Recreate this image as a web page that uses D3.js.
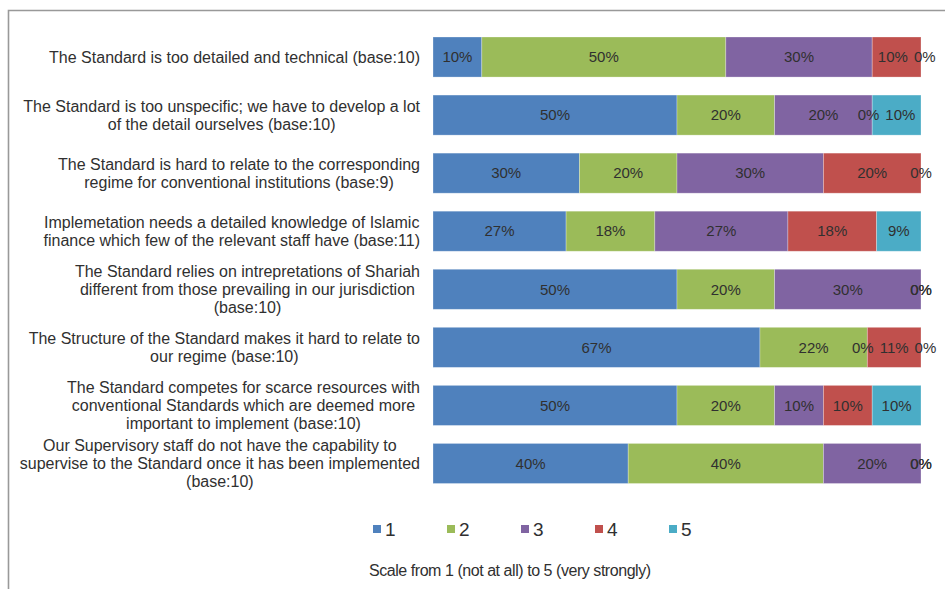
<!DOCTYPE html>
<html>
<head>
<meta charset="utf-8">
<script src="https://cdn.jsdelivr.net/npm/d3@7"></script>
<style>
	body { margin: 0; background: #fff; }
	svg { display: block; font-family: 'Liberation Sans', Arial, sans-serif; }
</style>
</head>
<body>
<div id="chart"></div>
<script>
// Categories (top to bottom), line breaks as in the original labels
const categories = [
	'The Standard is too detailed and technical (base:10)',
	'The Standard is too unspecific; we have to develop a lot\nof the detail ourselves (base:10)',
	'The Standard is hard to relate to the corresponding\nregime for conventional institutions (base:9)',
	'Implemetation needs a detailed knowledge of Islamic\nfinance which few of the relevant staff have (base:11)',
	'The Standard relies on intrepretations of Shariah\ndifferent from those prevailing in our jurisdiction\n(base:10)',
	'The Structure of the Standard makes it hard to relate to\nour regime (base:10)',
	'The Standard competes for scarce resources with\nconventional Standards which are deemed more\nimportant to implement (base:10)',
	'Our Supervisory staff do not have the capability to\nsupervise to the Standard once it has been implemented\n(base:10)'
];
const seriesNames = ['1', '2', '3', '4', '5'];
const scale1 = [10, 50, 30, 27, 50, 67, 50, 40];
const scale2 = [50, 20, 20, 18, 20, 22, 20, 40];
const scale3 = [30, 20, 30, 27, 30, 0, 10, 20];
const scale4 = [10, 0, 20, 18, 0, 11, 10, 0];
const scale5 = [0, 10, 0, 9, 0, 0, 10, 0];
const colors = ['#4F81BD', '#9BBB59', '#8064A2', '#C0504D', '#4BACC6'];
const captionText = 'Scale from 1 (not at all) to 5 (very strongly)';

const W = 945, H = 589;
const barLeft = 433, barRight = 921;
const labelRight = 420;
const lineH = 18;
const textColor = '#303030';

const rows = categories.map((c, i) => ({
	cat: c,
	'1': scale1[i],
	'2': scale2[i],
	'3': scale3[i],
	'4': scale4[i],
	'5': scale5[i]
}));

const svg = d3
	.select('#chart')
	.append('svg')
	.attr('width', W)
	.attr('height', H);

svg.append('rect').attr('width', W).attr('height', H).attr('fill', '#fff');

// frame (top and left edges only)
svg
	.append('path')
	.attr('d', 'M' + W + ',10.5H8.5V' + H)
	.attr('fill', 'none')
	.attr('stroke', '#999')
	.attr('stroke-width', 1.6);

// Scales
const x = d3.scaleLinear().domain([0, 1]).range([barLeft, barRight]);
const y = d3
	.scaleBand()
	.domain(categories)
	.range([28, 492.5])
	.paddingInner(0.31)
	.paddingOuter(0.155);

const stack = d3.stack().keys(seriesNames).offset(d3.stackOffsetExpand);
const series = stack(rows);

// Bars
const layers = svg
	.selectAll('g.layer')
	.data(series)
	.enter()
	.append('g')
	.attr('class', 'layer')
	.attr('fill', (d, i) => colors[i]);

layers
	.selectAll('rect')
	.data(d => d)
	.enter()
	.append('rect')
	.attr('x', d => x(d[0]))
	.attr('y', d => y(d.data.cat))
	.attr('width', d => x(d[1]) - x(d[0]))
	.attr('height', y.bandwidth())
	.attr('stroke', 'rgba(255,255,255,0.35)')
	.attr('stroke-width', 0.8);

// Value labels, one group per row so that crowded labels can be nudged apart
const labelRows = categories.map((c, r) =>
	series.map((s, i) => ({
		cat: c,
		val: s[r].data[seriesNames[i]],
		cx: (x(s[r][0]) + x(s[r][1])) / 2
	}))
);

const valueRows = svg
	.selectAll('g.values')
	.data(labelRows)
	.enter()
	.append('g')
	.attr('class', 'values');

valueRows.each(function(labels) {
	const g = d3.select(this);
	const t = g
		.selectAll('text')
		.data(labels)
		.enter()
		.append('text')
		.attr('y', d => y(d.cat) + y.bandwidth() / 2)
		.attr('dy', '0.35em')
		.attr('text-anchor', 'middle')
		.attr('fill', textColor)
		.style('font-size', '15px')
		.text(d => d.val + '%');
	t.each(function(d) {
		d.w = this.getComputedTextLength();
		d.pos = d.cx;
	});
	const gap = 6;
	for (let k = 0; k < 20; k++) {
		for (let i = 0; i < labels.length - 1; i++) {
			const a = labels[i], b = labels[i + 1];
			if (a.val === 0 && b.val === 0) continue;
			const over = a.pos + a.w / 2 + gap - (b.pos - b.w / 2);
			if (over > 0) {
				a.pos -= over / 2;
				b.pos += over / 2;
			}
		}
	}
	t.attr('x', d => d.pos);
});

// Category labels: lines centred on each other, block right-aligned
const catLabels = svg
	.selectAll('g.cat')
	.data(categories)
	.enter()
	.append('g')
	.attr('class', 'cat');

catLabels.each(function(c) {
	const g = d3.select(this);
	const lines = c.split('\n');
	const cy = y(c) + y.bandwidth() / 2;
	const t = g
		.selectAll('text')
		.data(lines)
		.enter()
		.append('text')
		.attr('y', (d, i) => cy + (i - (lines.length - 1) / 2) * lineH)
		.attr('dy', '0.35em')
		.attr('text-anchor', 'middle')
		.attr('fill', textColor)
		.style('font-size', '16px')
		.text(d => d);
	let maxW = 0;
	t.each(function() {
		maxW = Math.max(maxW, this.getComputedTextLength());
	});
	t.attr('x', labelRight - maxW / 2);
});

// Legend
const legend = svg
	.selectAll('g.legend')
	.data(seriesNames)
	.enter()
	.append('g')
	.attr('class', 'legend')
	.attr('transform', (d, i) => 'translate(' + (373 + i * 74) + ',529)');

legend
	.append('rect')
	.attr('x', 0)
	.attr('y', -4)
	.attr('width', 8)
	.attr('height', 8)
	.attr('fill', (d, i) => colors[i]);

legend
	.append('text')
	.attr('x', 12)
	.attr('dy', '0.36em')
	.attr('fill', textColor)
	.style('font-size', '19px')
	.text(d => d);

svg
	.append('text')
	.attr('x', 369)
	.attr('y', 570)
	.attr('dy', '0.35em')
	.attr('fill', textColor)
	.style('font-size', '16px')
	.style('letter-spacing', '-0.45px')
	.text(captionText);
</script>
</body>
</html>
